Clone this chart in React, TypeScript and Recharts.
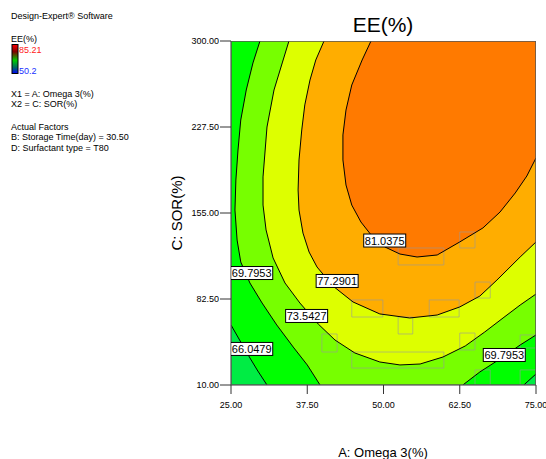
import { ScatterChart, Scatter, XAxis, YAxis } from 'recharts'

const FONT = 'Arial, "Liberation Sans", sans-serif'

const X_TICKS = [25, 37.5, 50, 62.5, 75]
const Y_TICKS = [10, 82.5, 155, 227.5, 300]
const X_MIN = 25
const X_MAX = 75
const Y_MIN = 10
const Y_MAX = 300

// contour traces, [A: Omega 3, C: SOR]
const c66Left = [[25, 60.6], [26.5, 47.1], [28.1, 32.8], [29.4, 21.8], [30.9, 10]]
const c66Right = [[73.0, 10], [75, 19.3]]
const c69Left = [
  [29.75, 300], [28.6, 281.5], [27.5, 258.7], [26.6, 233.4], [26.15, 208.1], [25.8, 182.8],
  [25.65, 157.5], [26.0, 132.2], [26.6, 113.7], [28.1, 96.0], [30.1, 79.1], [32.5, 60.6],
  [35.2, 42.0], [37.5, 26.9], [39.6, 10],
]
const c69Right = [[63.0, 10], [65.8, 21.0], [69.6, 33.6], [72.4, 43.7], [75, 52.2]]
const c73 = [
  [34.5, 300], [33.4, 281.5], [32.05, 258.7], [30.9, 227.5], [30.25, 185.4], [30.25, 161.7],
  [30.75, 140.7], [31.9, 117.1], [33.85, 96.0], [36.3, 79.1], [39.3, 61.4], [42.05, 47.9],
  [45.3, 37.0], [49.4, 29.4], [52.7, 26.9], [56.0, 27.7], [59.75, 33.6], [63.4, 42.9],
  [66.6, 54.7], [69.6, 66.5], [72.4, 77.4], [75, 86.7],
]
const c77 = [
  [40.25, 300], [38.9, 284.0], [37.95, 267.1], [37.1, 246.1], [36.6, 225.0], [36.15, 199.7],
  [36.0, 174.4], [36.15, 157.5], [36.8, 138.1], [37.8, 122.1], [39.1, 109.5], [41.7, 93.5],
  [45.0, 80.0], [49.4, 69.9], [54.3, 66.5], [58.8, 69.0], [62.5, 75.8], [65.8, 85.0],
  [68.6, 98.5], [72.4, 117.9], [75, 130.6],
]
const c81 = [
  [47.95, 300], [46.5, 284.0], [44.8, 262.9], [43.85, 241.8], [43.35, 220.8], [43.35, 199.7],
  [43.85, 178.6], [44.8, 161.7], [46.3, 147.4], [48.1, 135.6], [50.25, 126.3], [52.7, 120.4],
  [55.5, 117.9], [58.8, 119.6], [62.5, 130.6], [66.3, 142.4], [69.1, 155.8], [71.6, 171.9],
  [73.5, 186.2], [75, 201.4],
]

const levelLabels = [
  { x: 50.2, y: 131.8, text: '81.0375' },
  { x: 42.4, y: 97.7, text: '77.2901' },
  { x: 37.4, y: 68.2, text: '73.5427' },
  { x: 28.4, y: 104.4, text: '69.7953' },
  { x: 28.4, y: 40.4, text: '66.0479' },
  { x: 69.8, y: 35.3, text: '69.7953' },
]

// faint grey boxes left on the plot, [x1, x2, y1, y2]
const ghostBoxes = [
  [52.4, 59.9, 111.2, 125.5],
  [44.8, 59.9, 24.3, 37.8],
  [44.8, 49.9, 67.3, 81.7],
  [39.9, 42.4, 37.8, 53.0],
  [57.5, 62.4, 67.3, 81.7],
  [52.4, 54.8, 53.0, 67.3],
  [62.5, 65.0, 39.5, 53.8],
  [65.0, 67.5, 83.3, 96.8],
  [72.4, 75, 41.2, 52.2],
  [65.0, 67.5, 10, 22.7],
  [72.4, 75, 10, 22.7],
  [62.5, 65.0, 125.5, 139.0],
]

const bandColors = ['#00ec44', '#00ff00', '#77ff00', '#ddff00', '#ffad00', '#ff7a00']

const pts = (arr: number[][]) => arr.map(([x, y]) => ({ x, y }))
const rev = (arr: number[][]) => [...arr].reverse()

const regions = [
  [[X_MIN, Y_MIN], [X_MIN, Y_MAX], [X_MAX, Y_MAX], [X_MAX, Y_MIN]],
  [[X_MIN, Y_MAX], [X_MAX, Y_MAX], ...rev(c66Right), ...rev(c66Left)],
  [...c69Left, ...c69Right, [X_MAX, Y_MAX]],
  [...c73, [X_MAX, Y_MAX]],
  [...c77, [X_MAX, Y_MAX]],
  [...c81, [X_MAX, Y_MAX]],
]

const contours = [c66Left, c66Right, c69Left, c69Right, c73, c77, c81]

const border = [[X_MIN, Y_MIN], [X_MIN, Y_MAX], [X_MAX, Y_MAX], [X_MAX, Y_MIN], [X_MIN, Y_MIN]]

const Nothing = () => <g />

const LevelLabel = (props: any) => {
  const { cx, cy, payload } = props
  return (
    <g>
      <rect x={cx - 21} y={cy - 6.5} width={42} height={13} fill="#fff" stroke="#000" strokeWidth={1} />
      <text x={cx} y={cy + 4} textAnchor="middle" fontSize={11} fontFamily={FONT} fill="#000">
        {payload.text}
      </text>
    </g>
  )
}

const legendLines = [
  { y: 19, text: 'Design-Expert® Software' },
  { y: 41.5, text: 'EE(%)' },
  { y: 96.5, text: 'X1 = A: Omega 3(%)' },
  { y: 107, text: 'X2 = C: SOR(%)' },
  { y: 129.5, text: 'Actual Factors' },
  { y: 140, text: 'B: Storage Time(day) = 30.50' },
  { y: 150.5, text: 'D: Surfactant type = T80' },
]

export default function App() {
  return (
    <div style={{ position: 'relative', width: 546, height: 459, background: '#fff' }}>
      <style>{'body{margin:0}'}</style>
      <ScatterChart width={546} height={459} margin={{ top: 41, right: 10, bottom: 0, left: 0 }}>
        <XAxis
          type="number"
          dataKey="x"
          domain={[X_MIN, X_MAX]}
          ticks={X_TICKS}
          interval={0}
          allowDataOverflow
          height={74}
          tickSize={9}
          tickMargin={8}
          tickFormatter={(v: number) => v.toFixed(2)}
          tick={{ fontSize: 9, fill: '#000', fontFamily: FONT }}
          tickLine={{ stroke: '#333' }}
          axisLine={{ stroke: '#333' }}
        />
        <YAxis
          type="number"
          dataKey="y"
          domain={[Y_MIN, Y_MAX]}
          ticks={Y_TICKS}
          interval={0}
          allowDataOverflow
          width={231}
          tickSize={11}
          tickMargin={1}
          tickFormatter={(v: number) => v.toFixed(2)}
          tick={{ fontSize: 9, fill: '#000', fontFamily: FONT }}
          tickLine={{ stroke: '#333' }}
          axisLine={{ stroke: '#333' }}
        />
        {regions.map((r, i) => (
          <Scatter
            key={'band' + i}
            data={pts(r)}
            fill={bandColors[i]}
            line={{ fill: bandColors[i], stroke: 'none' }}
            shape={Nothing}
            isAnimationActive={false}
          />
        ))}
        {ghostBoxes.map(([x1, x2, y1, y2], i) => (
          <Scatter
            key={'ghost' + i}
            data={pts([[x1, y1], [x1, y2], [x2, y2], [x2, y1], [x1, y1]])}
            fill="none"
            line={{ stroke: '#999', strokeWidth: 0.8, strokeOpacity: 0.75, fill: 'none' }}
            shape={Nothing}
            isAnimationActive={false}
          />
        ))}
        {contours.map((c, i) => (
          <Scatter
            key={'line' + i}
            data={pts(c)}
            fill="none"
            line={{ stroke: '#000', strokeWidth: 1, fill: 'none' }}
            shape={Nothing}
            isAnimationActive={false}
          />
        ))}
        <Scatter
          data={pts(border)}
          fill="none"
          line={{ stroke: '#555', strokeWidth: 1.5, fill: 'none' }}
          shape={Nothing}
          isAnimationActive={false}
        />
        <Scatter data={levelLabels} fill="#fff" shape={LevelLabel} isAnimationActive={false} />
      </ScatterChart>
      <svg
        width={546}
        height={459}
        style={{ position: 'absolute', left: 0, top: 0, pointerEvents: 'none' }}
        fontFamily={FONT}
      >
        <defs>
          <linearGradient id="eeBar" x1="0" y1="0" x2="0" y2="1">
            <stop offset="0" stopColor="#ff0000" />
            <stop offset="0.25" stopColor="#800000" />
            <stop offset="0.55" stopColor="#00cc00" />
            <stop offset="0.8" stopColor="#006666" />
            <stop offset="1" stopColor="#0000ff" />
          </linearGradient>
        </defs>
        {legendLines.map((l) => (
          <text key={l.text} x={11} y={l.y} fontSize={9} fill="#000">
            {l.text}
          </text>
        ))}
        <rect x={12} y={44.5} width={6} height={29} fill="url(#eeBar)" stroke="#000" strokeWidth={1} />
        <text x={19} y={53} fontSize={9} fill="#ff2020">85.21</text>
        <text x={19} y={74} fontSize={9} fill="#2030ff">50.2</text>
        <text x={383} y={32} textAnchor="middle" fontSize={21} fill="#000">EE(%)</text>
        <text x={383} y={457} textAnchor="middle" fontSize={13} fill="#000">A: Omega 3(%)</text>
        <text
          x={182}
          y={213}
          textAnchor="middle"
          fontSize={15}
          fill="#000"
          transform="rotate(-90 182 213)"
        >
          C: SOR(%)
        </text>
      </svg>
    </div>
  )
}
